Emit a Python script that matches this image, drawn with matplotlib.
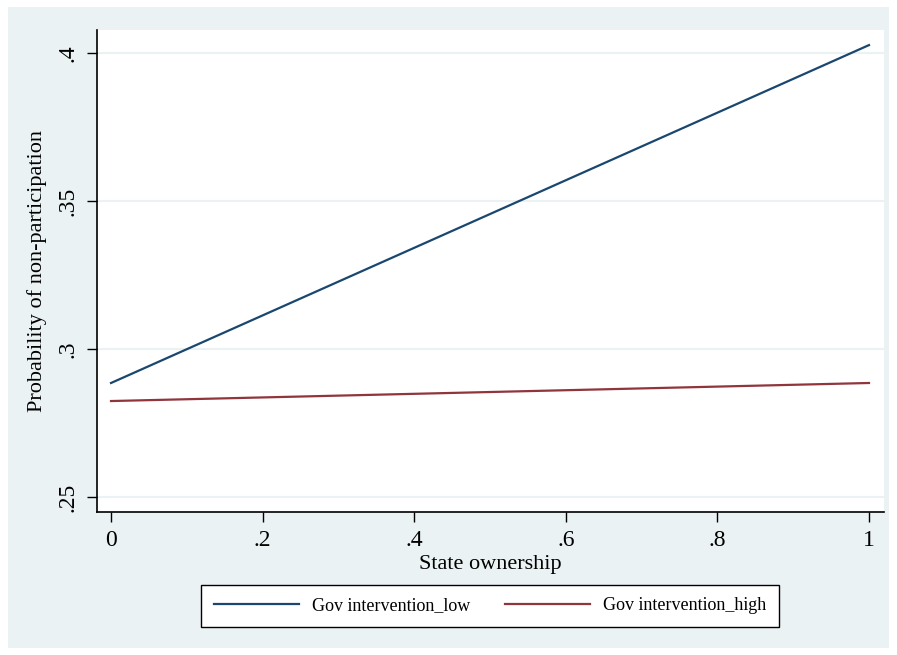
import numpy as np
import matplotlib
matplotlib.use("Agg")
import matplotlib.pyplot as plt
from matplotlib.patches import Rectangle

# data
state_ownership = [0.0, 1.0]
prob_low = [0.2885, 0.4027]
prob_high = [0.2824, 0.2885]
series_labels = ["Gov intervention_low", "Gov intervention_high"]

xticks = [0, 0.2, 0.4, 0.6, 0.8, 1.0]
xtick_labels = ["0", ".2", ".4", ".6", ".8", "1"]
yticks = [0.25, 0.30, 0.35, 0.40]
ytick_labels = [".25", ".3", ".35", ".4"]

BG = "#EAF2F3"
NAVY = "#1A476F"
MAROON = "#90353B"

plt.rcParams["font.family"] = ["Liberation Serif", "DejaVu Serif"]

fig = plt.figure(figsize=(8.97, 6.55), dpi=100)
fig.patch.set_facecolor("white")
# stata-like outer graph region
fig.patches.append(Rectangle((8 / 897, 1 - 648 / 655), 881 / 897, 641 / 655,
                             transform=fig.transFigure, facecolor=BG,
                             edgecolor="none", zorder=-10))

ax = fig.add_axes([97 / 897, 1 - 512 / 655, 787 / 897, 482 / 655])
ax.set_facecolor("white")

ax.plot(state_ownership, prob_low, color=NAVY, lw=1.6, label=series_labels[0])
ax.plot(state_ownership, prob_high, color=MAROON, lw=1.6, label=series_labels[1])

ax.set_xlim(-0.0185, 1.0198)
ax.set_ylim(0.2449, 0.4078)

ax.set_xticks(xticks, labels=xtick_labels)
ax.set_yticks(yticks, labels=ytick_labels)
ax.tick_params(axis="both", direction="out", length=7, width=1, labelsize=17,
               colors="black", pad=6)
for lab in ax.get_yticklabels():
    lab.set_rotation(90)
    lab.set_va("center")

ax.grid(axis="y", color=BG, lw=1.5)
ax.set_axisbelow(True)

ax.spines["top"].set_visible(False)
ax.spines["right"].set_visible(False)
ax.spines["left"].set_linewidth(1.2)
ax.spines["bottom"].set_linewidth(1.2)

ax.set_xlabel("State ownership", fontsize=16, labelpad=3)
ax.set_ylabel("Probability of non-participation", fontsize=16, labelpad=8)

leg = fig.legend(loc="center", bbox_to_anchor=(490 / 897, 1 - 606 / 655), ncol=2,
                 fontsize=13, frameon=True, fancybox=False, framealpha=1,
                 handlelength=4.7, columnspacing=1.9, borderpad=0.7,
                 handletextpad=0.75)
leg.get_frame().set_edgecolor("black")
leg.get_frame().set_facecolor("white")
leg.get_frame().set_linewidth(1.0)

fig.savefig("out.png", dpi=100, facecolor=fig.get_facecolor())
